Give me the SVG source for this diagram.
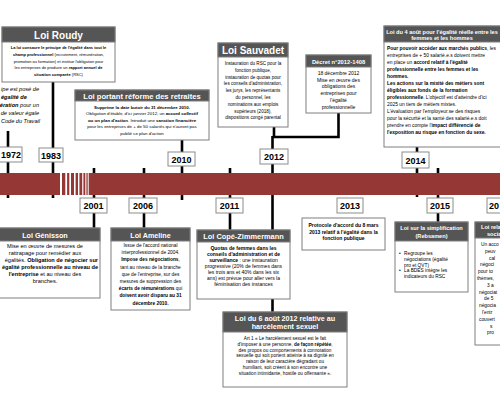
<svg xmlns="http://www.w3.org/2000/svg" width="500" height="413" viewBox="0 0 500 413">
<style>
text{font-family:"Liberation Sans",Arial,sans-serif;fill:#000}
.box{fill:#fff;stroke:#7f7f7f;stroke-width:1}
.hdr{fill:#555555;stroke:#7f7f7f;stroke-width:1}
.ht{fill:#fff;font-weight:bold;text-anchor:middle}
.c{text-anchor:middle}
.b{font-weight:bold}
.tick{stroke:#000;stroke-width:2.6;fill:none}
.yr rect{fill:#fff;stroke:#8c8c8c;stroke-width:1}
.yr text{font-weight:bold;font-size:9px;text-anchor:middle}
.it{font-style:italic}
</style>
<rect width="500" height="413" fill="#fff"/>
<g id="connectors">
<path class="tick" d="M8,131V198 M53,82V198 M182,140V200 M94,168V228 M144,168V228 M230,168V230 M274,127V137 M272.5,137H338.5V113 M272.5,136V312 M417,147V197 M438,168V222"/>
</g>
<g id="timeline-bar">
<rect x="0" y="173" width="500" height="22" fill="#953735"/>
<g fill="#fff">
<rect x="60" y="173" width="2" height="22"/>
<rect x="65.3" y="173" width="1.8" height="22"/>
<rect x="69.3" y="173" width="1.7" height="22"/>
<rect x="74" y="173" width="1.6" height="22"/>
<rect x="78" y="173" width="1.4" height="22"/>
<rect x="82.2" y="173" width="1.2" height="22"/>
<rect x="85.3" y="173" width="1.1" height="22"/>
<rect x="87.7" y="173" width="1" height="22"/>
</g>
</g>
<g id="years" class="yr">
<rect x="-2" y="147" width="24" height="15"/><text x="11" y="158">1972</text>
<rect x="39" y="148" width="24" height="14"/><text x="51" y="158.5">1983</text>
<rect x="168" y="152" width="27" height="14"/><text x="181.5" y="162.5">2010</text>
<rect x="80" y="198" width="27" height="15"/><text x="93.5" y="209">2001</text>
<rect x="129" y="198" width="28" height="15"/><text x="143" y="209">2006</text>
<rect x="216" y="198" width="27" height="15"/><text x="229.5" y="209">2011</text>
<rect x="260" y="149" width="28" height="15"/><text x="274" y="160">2012</text>
<rect x="337" y="198" width="26" height="15"/><text x="350" y="209">2013</text>
<rect x="402" y="152" width="27" height="16"/><text x="415.5" y="163.5">2014</text>
<rect x="427" y="198" width="26" height="15"/><text x="440" y="209">2015</text>
<rect x="487" y="198" width="27" height="15"/><text x="489" y="209" style="text-anchor:start">20</text>
</g>
<g id="loi-roudy">
<rect class="box" x="2" y="27" width="113" height="55"/>
<rect class="hdr" x="2" y="27" width="113" height="15"/>
<text class="ht" x="58.5" y="38.5" font-size="10">Loi Roudy</text>
<g class="c" font-size="4">
<text x="58.5" y="49" class="b">La loi consacre le principe de l'égalité dans tout le</text>
<text x="58.5" y="55.8"><tspan class="b">champ professionnel</tspan> (recrutement, rémunération,</text>
<text x="58.5" y="62.6">promotion ou formation) et institue l'obligation pour</text>
<text x="58.5" y="69.4">les entreprises de produire un <tspan class="b">rapport annuel de</tspan></text>
<text x="58.5" y="76.2"><tspan class="b">situation comparée</tspan> (RSC)</text>
</g>
</g>
<g id="principe" class="it" font-size="5.6" text-anchor="end">
<text x="39" y="91">ipe est posé de</text>
<text x="1" y="99" class="b" text-anchor="start">égalité de</text>
<text x="39" y="107"><tspan class="b">ération</tspan> pour un</text>
<text x="39" y="115">de valeur égale</text>
<text x="40" y="123">Code du Travail</text>
</g>
<g id="loi-retraites">
<rect class="box" x="75" y="90" width="134" height="50"/>
<rect class="hdr" x="75" y="90" width="134" height="11"/>
<text class="ht" x="142" y="98.8" font-size="7.6">Loi portant réforme des retraites</text>
<g class="c" font-size="4.4">
<text x="142" y="108.5" class="b">Supprime la date butoir du 31 décembre 2010.</text>
<text x="142" y="115">Obligation d'établir, d'ici janvier 2012, un <tspan class="b">accord collectif</tspan></text>
<text x="142" y="121.5"><tspan class="b">ou un plan d'action</tspan>. Introduit une <tspan class="b">sanction financière</tspan></text>
<text x="142" y="128">pour les entreprises de + de 50 salariés qui n'auront pas</text>
<text x="142" y="134.5">publié ce plan d'action</text>
</g>
</g>
<g id="loi-sauvadet">
<rect class="box" x="218" y="43" width="70" height="84"/>
<rect class="hdr" x="218" y="43" width="70" height="14"/>
<text class="ht" x="253" y="53.8" font-size="10">Loi Sauvadet</text>
<g class="c" font-size="4.6">
<text x="253" y="65">Instauration du RSC pour la</text>
<text x="253" y="71.8">fonction publique,</text>
<text x="253" y="78.6">instauration de quotas pour</text>
<text x="253" y="85.4">les conseils d'administration,</text>
<text x="253" y="92.2">les jurys, les représentants</text>
<text x="253" y="99">du personnel, les</text>
<text x="253" y="105.8">nominations aux emplois</text>
<text x="253" y="112.6">supérieurs (2018),</text>
<text x="253" y="119.4">dispositions congé parental</text>
</g>
</g>
<g id="decret">
<rect class="box" x="306" y="55" width="65" height="58"/>
<rect class="hdr" x="306" y="55" width="65" height="12"/>
<text class="ht" x="338.5" y="63.5" font-size="5.8">Décret n°2012-1408</text>
<g class="c" font-size="5">
<text x="338.5" y="75">18 décembre 2012</text>
<text x="338.5" y="81.7">Mise en œuvre des</text>
<text x="338.5" y="88.4">obligations des</text>
<text x="338.5" y="95.1">entreprises pour</text>
<text x="338.5" y="101.8">l'égalité</text>
<text x="338.5" y="108.5">professionnelle</text>
</g>
</g>
<g id="loi-4-aout">
<rect class="box" x="384" y="26" width="120" height="121"/>
<rect class="hdr" x="384" y="26" width="120" height="16"/>
<text class="ht" x="442" y="33.5" font-size="5.6">Loi du 4 août pour l'égalité réelle entre les</text>
<text class="ht" x="442" y="40" font-size="5.6">femmes et les hommes</text>
<g font-size="4.9">
<text x="387" y="49.5"><tspan class="b">Pour pouvoir accéder aux marchés publics</tspan>, les</text>
<text x="387" y="56.5">entreprises de + 50 salarié.e.s doivent mettre</text>
<text x="387" y="63.6">en place un <tspan class="b">accord relatif à l'égalité</tspan></text>
<text x="387" y="70.6" class="b">professionnelle entre les femmes et les</text>
<text x="387" y="77.7" class="b">hommes.</text>
<text x="387" y="84.7" class="b">Les actions sur la mixité des métiers sont</text>
<text x="387" y="91.8" class="b">éligibles aux fonds de la formation</text>
<text x="387" y="98.8"><tspan class="b">professionnelle</tspan>. L'objectif est d'atteindre d'ici</text>
<text x="387" y="105.9">2025 un tiers de métiers mixtes.</text>
<text x="387" y="112.9">L'évaluation par l'employeur.se des risques</text>
<text x="387" y="120">pour la sécurité et la santé des salarié.e.s doit</text>
<text x="387" y="127">prendre en compte l'<tspan class="b">impact différencié de</tspan></text>
<text x="387" y="134.1" class="b">l'exposition au risque en fonction du sexe.</text>
</g>
</g>
<g id="loi-genisson">
<rect class="box" x="-10" y="228" width="110" height="70"/>
<rect class="hdr" x="-10" y="228" width="110" height="13"/>
<text class="ht" x="45" y="237.5" font-size="7.2">Loi Génisson</text>
<g font-size="5.6">
<text class="c" x="45" y="248">Mise en œuvre de mesures de</text>
<text class="c" x="45" y="255">rattrapage pour remédier aux</text>
<text x="98" y="262" text-anchor="end">égalités. <tspan class="b">Obligation de négocier sur</tspan></text>
<text x="98" y="269" text-anchor="end" class="b">égalité professionnelle au niveau de</text>
<text class="c" x="45" y="276"><tspan class="b">l'entreprise</tspan> et au niveau des</text>
<text class="c" x="45" y="283">branches.</text>
</g>
</g>
<g id="loi-ameline">
<rect class="box" x="111" y="228" width="79" height="82"/>
<rect class="hdr" x="111" y="228" width="79" height="13"/>
<text class="ht" x="150.5" y="237.5" font-size="7.2">Loi Ameline</text>
<g class="c" font-size="4.8">
<text x="150.5" y="247">Issue de l'accord national</text>
<text x="150.5" y="254.2">interprofessionnel de 2004.</text>
<text x="150.5" y="261.4"><tspan class="b">Impose des négociations</tspan>,</text>
<text x="150.5" y="268.6">tant au niveau de la branche</text>
<text x="150.5" y="275.8">que de l'entreprise, sur des</text>
<text x="150.5" y="283">mesures de suppression des</text>
<text x="150.5" y="290.2"><tspan class="b">écarts de rémunérations</tspan> qui</text>
<text x="150.5" y="297.4" class="b">doivent avoir disparu au 31</text>
<text x="150.5" y="304.6" class="b">décembre 2010.</text>
</g>
</g>
<g id="loi-cope-zimmermann">
<rect class="box" x="197" y="230" width="93" height="69"/>
<rect class="hdr" x="197" y="230" width="93" height="12"/>
<text class="ht" x="243.5" y="239" font-size="7.4">Loi Copé-Zimmermann</text>
<g class="c" font-size="5">
<text x="243.5" y="250" class="b">Quotas de femmes dans les</text>
<text x="243.5" y="256" class="b">conseils d'administration et de</text>
<text x="243.5" y="262"><tspan class="b">surveillance</tspan> : une instauration</text>
<text x="243.5" y="268">progressive (20% de femmes dans</text>
<text x="243.5" y="274">les trois ans et 40% dans les six</text>
<text x="243.5" y="280">ans) est prévue pour aller vers la</text>
<text x="243.5" y="286">féminisation des instances</text>
</g>
</g>
<g id="protocole-2013">
<rect class="box" x="302" y="218" width="83" height="32"/>
<g class="c b" font-size="5">
<text x="343.5" y="227">Protocole d'accord du 8 mars</text>
<text x="343.5" y="233.5">2013 relatif à l'égalité dans la</text>
<text x="343.5" y="240">fonction publique</text>
</g>
</g>
<g id="loi-6-aout-2012">
<rect class="box" x="223" y="312" width="124" height="75"/>
<rect class="hdr" x="223" y="312" width="124" height="20"/>
<text class="ht" x="285" y="320.5" font-size="7.2">Loi du 6 août 2012 relative au</text>
<text class="ht" x="285" y="329" font-size="7.2">harcèlement sexuel</text>
<g class="c" font-size="4.7">
<text x="285" y="340">Art 1 « Le harcèlement sexuel est le fait</text>
<text x="285" y="345.8">d'imposer à une personne, <tspan class="b">de façon répétée</tspan>,</text>
<text x="285" y="351.6">des propos ou comportements à connotation</text>
<text x="285" y="357.4">sexuelle qui soit portent atteinte à sa dignité en</text>
<text x="285" y="363.2">raison de leur caractère dégradant ou</text>
<text x="285" y="369">humiliant, soit créent à son encontre une</text>
<text x="285" y="374.8">situation intimidante, hostile ou offensante ».</text>
</g>
</g>
<g id="loi-simplification">
<rect class="box" x="395" y="222" width="73" height="70"/>
<rect class="hdr" x="395" y="222" width="73" height="19"/>
<text class="ht" x="431.5" y="230" font-size="5.6">Loi sur la simplification</text>
<text class="ht" x="431.5" y="237.5" font-size="5.6">(Rebsamen)</text>
<g font-size="4.8">
<text x="399" y="255">•</text>
<text x="404" y="255">Regroupe les</text>
<text x="404" y="260.8">négociations (égalité</text>
<text x="404" y="266.6">pro et QVT)</text>
<text x="399" y="272.4">•</text>
<text x="404" y="272.4">La BDES intègre les</text>
<text x="404" y="278.2">indicateurs du RSC</text>
</g>
</g>
<g id="loi-dialogue-social">
<rect class="box" x="475" y="222" width="60" height="123"/>
<rect class="hdr" x="475" y="222" width="60" height="16"/>
<text class="ht" x="481" y="229" font-size="5.6" style="text-anchor:start">Loi rela</text>
<text class="ht" x="487" y="235.5" font-size="5.6" style="text-anchor:start">socia</text>
<g font-size="4.8">
<text x="481" y="246">Un acco</text>
<text x="485" y="252.8">peuv</text>
<text x="489" y="259.6">cal</text>
<text x="480" y="266.4">négoci</text>
<text x="478" y="273.2">pour to</text>
<text x="477" y="280">thèmes,</text>
<text x="487" y="286.8">3 a</text>
<text x="479" y="293.6">négociat</text>
<text x="484" y="300.4">de 5</text>
<text x="479" y="307.2">négocia</text>
<text x="482" y="314">l'entr</text>
<text x="479" y="320.8">couvert</text>
<text x="490" y="327.6">s</text>
<text x="487" y="334.4">pro</text>
</g>
</g>
</svg>
